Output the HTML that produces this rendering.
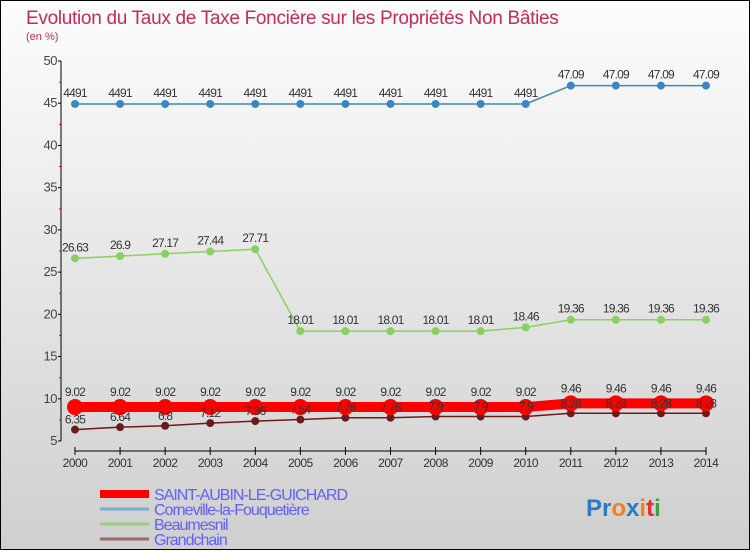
<!DOCTYPE html>
<html><head><meta charset="utf-8"><style>
html,body{margin:0;padding:0}
body{width:750px;height:550px;overflow:hidden;font-family:"Liberation Sans",sans-serif}
#c{position:absolute;left:0;top:0;width:748px;height:548px;border:1px solid #000;background:linear-gradient(#fdfdfd,#cfcfcf)}
</style></head><body>
<div id="c">
<svg id="svg" width="748" height="548" xmlns="http://www.w3.org/2000/svg">
<text x="25" y="23" font-size="19" fill="#c8285a" letter-spacing="-0.3">Evolution du Taux de Taxe Foncière sur les Propriétés Non Bâties</text>
<text x="25" y="39" font-size="11" fill="#c8285a">(en %)</text>
<g id="axes"></g><g id="series"></g><g id="labels"></g><g id="legend"></g>
<text x="585" y="515" font-size="24" font-weight="bold"><tspan fill="#2a7ac8">Pr</tspan><tspan fill="#f08020">o</tspan><tspan fill="#2a7ac8">x</tspan><tspan fill="#f08020">i</tspan><tspan fill="#e03030">t</tspan><tspan fill="#40a040">i</tspan></text>
</svg>
</div>
<script>
const years=[2000,2001,2002,2003,2004,2005,2006,2007,2008,2009,2010,2011,2012,2013,2014];
const yTicks=[5,10,15,20,25,30,35,40,45,50];
const saint=[9.02,9.02,9.02,9.02,9.02,9.02,9.02,9.02,9.02,9.02,9.02,9.46,9.46,9.46,9.46];
const corne=[44.91,44.91,44.91,44.91,44.91,44.91,44.91,44.91,44.91,44.91,44.91,47.09,47.09,47.09,47.09];
const beau=[26.63,26.9,27.17,27.44,27.71,18.01,18.01,18.01,18.01,18.01,18.46,19.36,19.36,19.36,19.36];
const grand=[6.35,6.64,6.8,7.12,7.36,7.54,7.76,7.76,7.9,7.9,7.9,8.28,8.28,8.28,8.28];
const names=["SAINT-AUBIN-LE-GUICHARD","Corneville-la-Fouquetière","Beaumesnil","Grandchain"];
const NS="http://www.w3.org/2000/svg";
const X=i=>74+i*(705-74)/(years.length-1);
const Y=v=>440-(v-5)*(440-60)/45;
function mk(tag,attrs,parent,text){const e=document.createElementNS(NS,tag);for(const k in attrs)e.setAttribute(k,attrs[k]);if(text!==undefined)e.textContent=text;parent.appendChild(e);return e;}
const ax=document.getElementById('axes');
let e=mk('line',{x1:60,y1:Y(50),x2:60,y2:Y(5),stroke:'#000'},ax);

e=mk('line',{x1:X(0),y1:450,x2:X(14),y2:450,stroke:'#000'},ax);

yTicks.forEach(t=>{mk('line',{x1:57,y1:Y(t),x2:60,y2:Y(t),stroke:'#000'},ax);
 if(t<50)mk('line',{x1:58,y1:Y(t+2.5),x2:60,y2:Y(t+2.5),stroke:'#e00'},ax);
 e=mk('text',{x:56,y:Y(t)+4,'font-size':13,fill:'#444','text-anchor':'end','letter-spacing':'-0.5'},ax,String(t));
 });
years.forEach((yr,i)=>{mk('line',{x1:X(i),y1:446,x2:X(i),y2:454,stroke:'#000'},ax);
 e=mk('text',{x:X(i),y:466,'font-size':12,fill:'#333','text-anchor':'middle','letter-spacing':'-0.5'},ax,String(yr));
 });
const sg=document.getElementById('series'),lb=document.getElementById('labels');
function draw(data,color,w,r,name,labOff){
 const g=mk('g',{},sg);
 
 mk('polyline',{points:data.map((v,i)=>X(i)+','+Y(v)).join(' '),fill:'none',stroke:color,'stroke-width':w},g);
 data.forEach((v,i)=>{const c=mk('circle',{cx:X(i),cy:Y(v),r:r,fill:color},g);
  
  const t=mk('text',{x:X(i),y:Y(v)+labOff,'font-size':12,fill:'#333','text-anchor':'middle','letter-spacing':'-0.8'},lb,String(v).replace('.',i<11&&name=='corneville-series'?'':'.'));
  });
}
draw(grand,'#6b1a1a',1.5,4,'grandchain-series',-6);
draw(saint,'#ff0000',10,8,'saint-aubin-series',-11);
draw(beau,'#88d060',1.5,4,'beaumesnil-series',-7);
draw(corne,'#3a86c0',1.5,4,'corneville-series',-7);
const lg=document.getElementById('legend');
const lc=['#ff0000','#7aaed0','#9cd080','#9a6a6a'],lw=[8,3,3,3];
names.forEach((n,i)=>{const y=493+i*15;
 const g=mk('g',{},lg);
 mk('line',{x1:99,y1:y,x2:148,y2:y,stroke:lc[i],'stroke-width':lw[i]},g);
 mk('text',{x:153,y:y+6,'font-size':16,fill:'#6060ff','letter-spacing':'-1'},g,n);});
</script>
</body></html>
